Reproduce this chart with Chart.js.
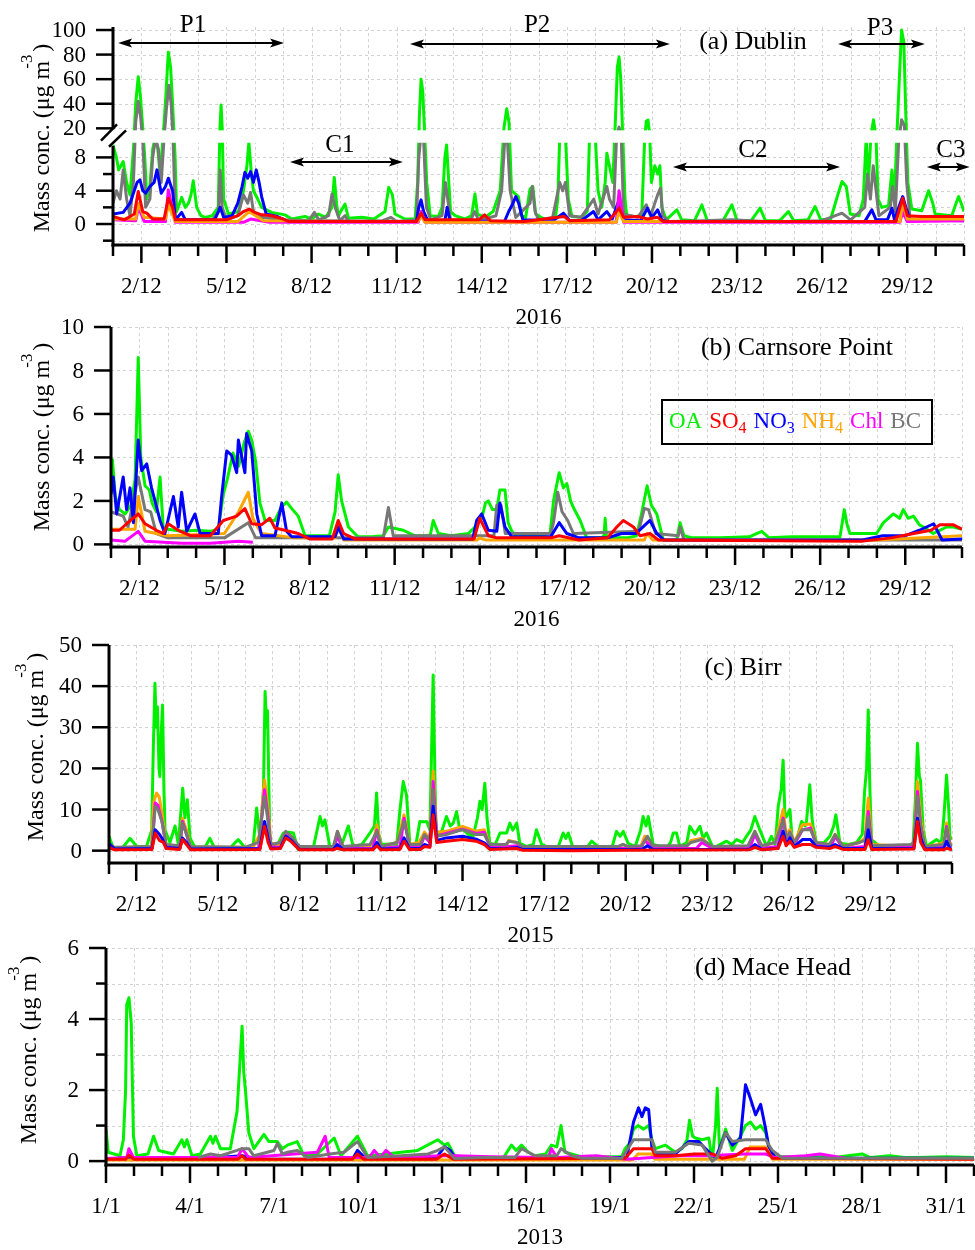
<!DOCTYPE html>
<html>
<head>
<meta charset="utf-8">
<script src="https://cdn.jsdelivr.net/npm/chart.js@4.4.1/dist/chart.umd.min.js"></script>
<style>
body { margin: 0; background: #fff; }
#wrap { position: relative; width: 975px; height: 1250px; }
canvas { position: absolute; left: 0; }
</style>
</head>
<body>
<div id="wrap">
  <canvas id="cA" width="975" height="330" style="top:0px"></canvas>
  <canvas id="cB" width="975" height="320" style="top:318px"></canvas>
  <canvas id="cC" width="975" height="320" style="top:628px"></canvas>
  <canvas id="cD" width="975" height="315" style="top:935px"></canvas>
</div>
<script>
// ---- data: [day, value] pairs, day 1 = first of month 00:00 ----

// (a) Dublin, Dec 2016
var dubOA = [[1.0,9.5],[1.12,8],[1.2,6.5],[1.36,7.5],[1.48,5],[1.6,3.5],[1.72,9],[1.8,40],[1.89,62],[1.97,45],[2.05,20],[2.12,8],[2.19,3],[2.3,4.5],[2.4,9],[2.48,12],[2.58,9],[2.66,6],[2.77,14],[2.86,45],[2.95,82],[3.03,70],[3.1,40],[3.19,8],[3.24,1.5],[3.35,2.5],[3.42,3.2],[3.55,2.0],[3.66,2.5],[3.75,3.5],[3.83,5.2],[3.95,2.0],[4.1,1.0],[4.24,0.8],[4.5,1.0],[4.71,2.0],[4.77,20],[4.81,39],[4.85,20],[4.9,3],[5.07,1.2],[5.42,1.5],[5.6,4],[5.72,7],[5.79,9.8],[5.88,6],[5.95,4],[6.1,3],[6.24,2],[6.59,1.4],[7.06,1.1],[7.3,0.6],[7.77,0.9],[8.0,0.6],[8.24,1.2],[8.5,0.8],[8.72,2],[8.8,5.6],[8.88,2.5],[8.94,1.0],[9.18,2.4],[9.3,0.7],[9.77,0.8],[10.2,0.6],[10.59,1.5],[10.72,4.4],[10.85,3.5],[10.94,1.2],[11.29,0.6],[11.65,0.6],[11.74,5],[11.8,30],[11.86,60],[11.92,50],[11.98,20],[12.06,5],[12.18,1.0],[12.47,0.9],[12.6,2],[12.7,8],[12.76,9.5],[12.82,6],[12.9,1.5],[13.06,1.0],[13.4,0.6],[13.64,1.0],[13.76,3.6],[13.85,1.2],[14.11,0.8],[14.4,1.5],[14.65,4],[14.78,20],[14.88,36],[14.96,25],[15.05,4],[15.29,3.3],[15.4,1.0],[15.55,0.8],[15.7,4.2],[15.8,4.5],[15.9,1.2],[16.0,1.0],[16.24,0.5],[16.59,0.6],[16.68,3],[16.75,14],[16.85,12],[16.95,14],[17.05,3],[17.18,0.9],[17.5,0.8],[17.72,1.5],[17.8,14],[17.9,12],[18.0,14],[18.1,4],[18.23,2],[18.35,5],[18.41,8.5],[18.5,7],[18.62,5],[18.7,20],[18.78,70],[18.84,78],[18.9,60],[18.96,20],[19.05,3],[19.11,1.0],[19.4,0.9],[19.64,1.0],[19.74,10],[19.8,26],[19.86,26.8],[19.92,15],[19.98,5],[20.1,7],[20.2,6],[20.28,7],[20.35,2],[20.5,0.5],[20.88,1.7],[21.05,0.5],[21.5,0.4],[21.76,2.3],[21.95,0.4],[22.5,0.4],[22.82,2.3],[23.0,0.4],[23.5,0.4],[23.81,1.9],[24.0,0.4],[24.5,0.4],[24.81,1.5],[25.0,0.4],[25.5,0.5],[25.75,2.1],[25.95,0.5],[26.3,0.6],[26.55,3.5],[26.7,5.1],[26.85,4.5],[26.99,1.2],[27.3,1.0],[27.45,3],[27.55,12],[27.63,5],[27.72,14],[27.81,27],[27.9,12],[27.97,3],[28.1,2],[28.34,2.2],[28.46,6.5],[28.55,3],[28.63,12],[28.72,60],[28.8,100],[28.88,90],[28.95,30],[29.02,5],[29.16,1.8],[29.51,1.6],[29.75,4],[29.9,2.5],[29.98,1.2],[30.57,1.0],[30.72,2.5],[30.81,3.3],[30.9,2.5],[31.0,1.5]];
var dubBC = [[1.0,2.5],[1.12,4.0],[1.25,3],[1.36,6.5],[1.48,3],[1.6,1.0],[1.72,5],[1.8,25],[1.89,42],[1.97,30],[2.05,10],[2.15,2],[2.3,3],[2.4,8],[2.5,12],[2.6,9],[2.7,5],[2.8,12],[2.88,35],[2.97,55],[3.05,40],[3.12,10],[3.2,0.6],[3.5,0.5],[4.0,0.4],[4.5,0.5],[4.72,1.5],[4.78,6.5],[4.85,2],[5.0,0.5],[5.4,1.0],[5.6,3.5],[5.75,2.5],[5.85,3.8],[5.95,1.5],[6.2,0.8],[7.0,0.5],[7.9,0.4],[8.1,1.4],[8.25,0.5],[8.6,1.0],[8.72,3.6],[8.85,1.8],[9.0,0.4],[9.18,1.0],[9.3,0.3],[10.5,0.4],[10.8,0.8],[11.0,0.3],[11.7,0.5],[11.78,8],[11.86,15],[11.95,10],[12.05,2],[12.2,0.5],[12.6,1],[12.72,5],[12.8,3],[12.9,0.5],[13.6,0.4],[13.75,1.5],[13.9,0.4],[14.5,1.0],[14.7,4],[14.82,14],[14.9,12],[15.0,4],[15.2,0.8],[15.7,2.5],[15.78,4.5],[15.88,1.5],[16.0,0.5],[16.5,0.8],[16.75,5],[16.85,4],[16.95,5],[17.1,1],[17.5,0.8],[17.85,2.5],[17.95,3],[18.1,1.2],[18.41,4.5],[18.5,3],[18.65,2],[18.75,12],[18.84,21],[18.92,10],[19.0,1.2],[19.5,0.8],[19.8,2.3],[19.95,1.0],[20.2,3.5],[20.3,4.3],[20.38,1.0],[20.6,0.3],[21.8,0.4],[22.8,0.5],[24.0,0.3],[25.0,0.3],[26.0,0.4],[26.7,1.3],[27.0,0.5],[27.5,2],[27.6,6],[27.7,3],[27.8,7],[27.9,4],[28.0,1],[28.4,2],[28.48,4.5],[28.58,1.5],[28.7,10],[28.8,27],[28.9,22],[28.98,5],[29.1,0.6],[30.0,0.4],[31.0,0.5]];
var dubNO3 = [[1.0,1.2],[1.36,1.4],[1.6,2.5],[1.85,5.0],[1.95,5.3],[2.05,4],[2.15,3.7],[2.3,4.5],[2.45,5],[2.55,6.5],[2.7,3.7],[2.85,4.5],[2.95,5.5],[3.1,4],[3.2,0.5],[3.42,1.4],[3.55,0.5],[4.5,0.5],[4.6,0.6],[4.78,2],[4.9,0.8],[5.2,1.0],[5.4,2.5],[5.55,4.5],[5.65,6.2],[5.75,5.5],[5.85,6.3],[5.95,5.0],[6.05,6.5],[6.15,5],[6.24,3.3],[6.4,1.2],[6.8,0.9],[7.1,0.4],[11.0,0.3],[11.7,0.3],[11.78,2.0],[11.86,2.9],[11.95,1.5],[12.1,0.4],[12.7,0.4],[12.78,2],[12.88,0.4],[14.8,0.3],[14.95,1.5],[15.1,2.5],[15.2,3.3],[15.3,2.5],[15.45,0.5],[16.5,0.4],[16.88,1.3],[17.1,0.4],[17.5,0.4],[17.94,1.5],[18.1,0.5],[18.41,1.5],[18.6,0.6],[18.84,2.9],[19.0,0.5],[19.6,0.4],[19.84,1.9],[20.0,0.8],[20.2,1.7],[20.35,0.5],[20.5,0.3],[27.5,0.3],[27.75,1.7],[27.9,0.5],[28.3,0.5],[28.46,1.9],[28.55,0.5],[28.75,2.5],[28.84,3.3],[28.95,2.0],[29.1,0.5],[31.0,0.4]];
var dubSO4 = [[1.0,0.9],[1.4,0.5],[1.75,1.2],[1.89,3.9],[2.05,1.5],[2.19,1.3],[2.4,0.6],[2.8,0.6],[2.95,3.1],[3.1,2.0],[3.2,0.5],[5.0,0.5],[5.4,1.0],[5.6,1.5],[5.8,1.8],[6.0,1.4],[6.24,1.1],[6.6,1.0],[7.0,0.6],[7.2,0.3],[11.7,0.3],[11.86,1.3],[12.0,0.5],[13.0,0.5],[13.9,0.5],[14.1,1.1],[14.3,0.4],[15.5,0.3],[16.0,0.5],[16.9,0.9],[17.1,0.4],[18.5,0.5],[18.84,1.9],[19.0,0.8],[19.5,0.9],[19.84,0.6],[20.2,0.8],[20.4,0.3],[28.6,0.3],[28.84,3.1],[29.0,1.0],[29.5,0.9],[30.5,0.9],[31.0,0.9]];
var dubNH4 = [[1.0,0.6],[1.8,0.6],[1.89,2.5],[2.1,0.8],[2.85,0.6],[2.95,2.3],[3.2,0.3],[5.4,0.3],[5.8,1.5],[6.3,0.4],[11.75,0.3],[11.86,1.0],[12.0,0.2],[18.74,0.2],[18.84,1.5],[19.0,0.3],[28.74,0.3],[28.84,2.5],[29.0,0.6],[31.0,0.6]];
var dubChl = [[1.0,0.5],[1.8,0.4],[1.9,2],[2.1,0.3],[2.85,0.3],[2.95,4.1],[3.2,0.2],[5.6,0.2],[5.85,0.6],[6.5,0.2],[11.76,0.2],[11.86,1.5],[12.0,0.2],[18.74,0.2],[18.84,4.0],[19.0,0.2],[28.74,0.2],[28.84,1.5],[29.0,0.3],[31.0,0.4]];

// (b) Carnsore Point, Dec 2016
var carOA = [[1.0,3.6],[1.05,3.9],[1.15,2.2],[1.3,1.6],[1.5,1.4],[1.7,1.8],[1.85,3],[1.96,8.6],[2.05,4],[2.2,2.7],[2.35,2.5],[2.45,1.9],[2.6,1.5],[2.73,3.1],[2.84,0.8],[3.0,0.7],[3.5,0.6],[4.0,0.65],[4.5,0.6],[4.78,0.7],[4.96,2.3],[5.1,3.0],[5.3,4.2],[5.5,3.6],[5.7,4.7],[5.84,5.2],[5.96,4.8],[6.1,3.8],[6.25,1.9],[6.43,1.1],[6.78,1.1],[7.0,1.7],[7.19,1.95],[7.4,1.6],[7.6,1.3],[7.84,0.4],[8.2,0.4],[8.7,0.4],[8.9,1.5],[9.01,3.2],[9.13,2.0],[9.37,0.8],[9.7,0.35],[10.2,0.35],[10.6,0.4],[10.78,0.8],[11.3,0.65],[11.7,0.4],[12.25,0.4],[12.36,1.1],[12.54,0.5],[13.0,0.4],[13.6,0.5],[13.83,0.8],[14.07,1.2],[14.2,1.9],[14.3,2.0],[14.45,1.6],[14.6,1.6],[14.71,2.5],[14.89,2.5],[15.0,1.0],[15.13,0.6],[15.3,0.35],[16.0,0.4],[16.48,0.5],[16.6,2.0],[16.8,3.3],[16.95,2.6],[17.07,2.8],[17.2,2.0],[17.3,1.7],[17.54,1.1],[17.77,0.3],[18.3,0.3],[18.38,0.4],[18.42,1.2],[18.47,0.3],[19.2,0.3],[19.53,0.4],[19.7,1.4],[19.9,2.7],[20.05,1.8],[20.24,1.4],[20.47,0.2],[20.94,0.2],[21.06,1.0],[21.2,0.4],[21.5,0.3],[22.5,0.3],[23.5,0.35],[23.94,0.6],[24.2,0.3],[25.0,0.35],[26.0,0.35],[26.7,0.35],[26.85,1.6],[26.95,0.9],[27.05,0.5],[27.52,0.5],[27.99,0.5],[28.23,1.0],[28.58,1.4],[28.8,1.2],[28.93,1.6],[29.1,1.2],[29.29,1.3],[29.5,0.9],[29.64,0.8],[29.99,0.5],[30.46,0.8],[30.7,0.8],[31.0,0.7]];
var carNO3 = [[1.0,2.3],[1.08,3.1],[1.2,1.4],[1.43,3.1],[1.55,1.6],[1.67,2.6],[1.79,1.0],[1.96,4.8],[2.08,3.4],[2.26,3.7],[2.43,2.6],[2.55,2.0],[2.73,1.1],[2.9,0.5],[3.2,2.2],[3.37,0.8],[3.49,2.4],[3.67,0.6],[3.96,1.4],[4.14,0.5],[4.31,0.5],[4.78,0.5],[4.9,2.2],[5.08,4.3],[5.25,4.1],[5.43,3.3],[5.49,4.8],[5.72,3.3],[5.78,5.1],[5.96,4.3],[6.14,1.4],[6.31,0.4],[6.78,0.4],[7.02,1.9],[7.19,0.6],[7.37,0.35],[8.9,0.35],[9.01,0.8],[9.2,0.25],[12.6,0.25],[13.75,0.25],[13.89,1.1],[14.07,1.4],[14.3,0.65],[14.6,0.6],[14.71,1.9],[14.89,0.8],[15.13,0.35],[16.5,0.35],[16.8,1.0],[17.07,0.5],[17.5,0.3],[18.5,0.3],[19.0,0.5],[19.5,0.5],[20.0,1.1],[20.24,0.5],[20.5,0.2],[27.5,0.2],[28.2,0.4],[29.0,0.4],[29.5,0.65],[30.0,0.95],[30.3,0.2],[31.0,0.25]];
var carSO4 = [[1.0,0.65],[1.3,0.65],[1.55,0.95],[1.96,1.4],[2.2,0.95],[2.6,0.65],[2.84,0.5],[3.02,0.95],[3.37,0.65],[3.8,0.4],[4.5,0.4],[4.96,1.1],[5.43,1.3],[5.72,1.65],[5.96,0.95],[6.3,0.9],[6.6,1.2],[6.78,0.75],[7.13,0.65],[7.6,0.5],[8.0,0.25],[8.8,0.25],[9.01,1.1],[9.2,0.5],[9.6,0.25],[12.0,0.25],[13.8,0.25],[14.0,1.2],[14.3,0.4],[14.6,0.3],[16.5,0.3],[16.8,0.4],[17.5,0.2],[18.5,0.3],[18.83,0.8],[19.06,1.1],[19.42,0.8],[19.65,0.4],[20.0,0.5],[20.3,0.2],[27.5,0.15],[28.5,0.3],[29.3,0.5],[29.9,0.65],[30.23,0.9],[30.7,0.9],[31.0,0.7]];
var carNH4 = [[1.0,0.7],[1.85,0.7],[1.96,2.2],[2.2,0.6],[3.0,0.4],[5.0,0.5],[5.5,1.5],[5.84,2.4],[6.0,1.2],[6.3,0.5],[7.5,0.3],[8.9,0.3],[9.01,0.8],[9.2,0.2],[13.9,0.2],[14.0,0.3],[14.2,0.2],[19.8,0.2],[19.9,0.5],[20.1,0.2],[28.0,0.2],[31.0,0.4]];
var carChl = [[1.0,0.2],[1.5,0.15],[1.96,0.6],[2.2,0.15],[3.5,0.05],[4.5,0.05],[5.0,0.1],[5.5,0.15],[6.0,0.1]];
var carBC = [[1.0,1.5],[1.43,1.3],[1.6,0.8],[1.96,3.1],[2.2,1.6],[2.4,1.5],[2.6,0.5],[3.0,0.3],[5.0,0.3],[5.84,1.0],[6.1,0.3],[10.6,0.3],[10.78,1.7],[10.95,0.4],[14.5,0.4],[14.6,1.8],[14.75,1.8],[14.9,0.5],[16.5,0.5],[16.6,1.0],[16.75,2.4],[16.9,1.5],[17.1,1.1],[17.3,0.5],[19.6,0.6],[19.8,1.65],[19.95,1.6],[20.2,0.5],[21.0,0.4],[21.06,0.8],[21.2,0.2],[31.0,0.2]];

// (c) Birr, Dec 2015
var birOA = [[1.0,3.5],[1.16,0.5],[1.5,0.7],[1.77,3.0],[2.02,1.0],[2.38,1.0],[2.57,5],[2.63,25],[2.69,40.7],[2.74,30],[2.78,35],[2.84,20],[2.87,18],[2.93,30],[2.97,35.4],[3.02,15],[3.06,5],[3.24,2],[3.43,6],[3.55,1.5],[3.71,15.2],[3.79,8],[3.88,12.4],[3.98,3],[4.2,0.3],[4.5,0.4],[4.71,3.0],[4.9,0.4],[5.4,0.3],[5.75,2.7],[6.06,0.3],[6.3,1.0],[6.43,10.4],[6.55,2.7],[6.68,15],[6.74,38.7],[6.8,30],[6.83,34],[6.88,15],[6.92,1.5],[7.16,1.0],[7.41,4.3],[7.6,4.5],[7.78,4.3],[7.95,0.3],[8.5,0.3],[8.76,8.3],[8.85,6],[8.94,7.5],[9.12,1.0],[9.5,0.4],[9.8,6.0],[9.98,1.0],[10.3,1.5],[10.6,4.3],[10.76,6],[10.84,14],[10.92,4],[11.02,1.5],[11.3,1.6],[11.58,1.5],[11.7,10],[11.82,16.8],[11.94,13.5],[12.07,1.0],[12.3,2],[12.43,7.1],[12.6,7],[12.68,7.1],[12.8,5],[12.92,42.7],[13.02,5],[13.2,4],[13.41,8.3],[13.55,6],[13.66,6.7],[13.78,9.5],[13.9,5],[14.03,5.1],[14.2,4],[14.39,3.5],[14.55,8],[14.64,12],[14.72,10],[14.82,16.4],[14.9,8],[15.0,1.8],[15.2,1.5],[15.38,4.3],[15.62,4.3],[15.74,6.7],[15.85,5],[15.99,6.7],[16.11,1.8],[16.36,1.0],[16.6,1.5],[16.72,5.1],[16.91,1.5],[17.21,0.6],[17.5,0.6],[17.7,4.3],[17.8,3],[17.89,4.3],[18.07,0.6],[18.56,0.6],[18.75,2.3],[19.05,0.6],[19.5,0.8],[19.66,4.7],[19.8,3.5],[19.91,4.7],[20.09,1.8],[20.35,1.0],[20.55,5],[20.64,8.3],[20.75,6],[20.83,8.3],[21.01,1.5],[21.5,0.6],[21.65,2],[21.75,4.3],[21.87,4.3],[21.99,1.0],[22.25,2],[22.36,5.9],[22.55,4],[22.73,5.9],[22.85,3],[22.97,4.3],[23.22,0.6],[23.71,2.3],[23.9,1.5],[24.08,2.7],[24.3,2],[24.44,3.5],[24.6,5],[24.75,8.3],[24.93,5.1],[25.18,1.0],[25.36,3.5],[25.5,1.5],[25.61,10.8],[25.72,15],[25.79,22],[25.86,8],[25.91,8.3],[26.04,10],[26.12,3],[26.22,1.0],[26.47,7.1],[26.6,6],[26.65,7.1],[26.77,16],[26.85,8],[26.89,6],[27.02,1.8],[27.3,2],[27.51,3.5],[27.65,6],[27.73,8.7],[27.88,1.8],[28.2,1.5],[28.5,2],[28.7,4],[28.79,14.8],[28.86,20],[28.92,34.2],[28.98,15],[29.04,2.7],[29.35,1.0],[30.0,1.0],[30.33,1.0],[30.57,1.8],[30.65,12],[30.73,26.1],[30.8,18],[30.84,17.2],[30.94,5.1],[31.06,1.0],[31.43,2.7],[31.61,1.8],[31.7,8],[31.8,18.4],[31.88,10],[31.92,3.5],[32.0,2.7]];
var birNH4 = [[1.0,1.5],[1.2,0.7],[2.55,0.9],[2.65,12],[2.75,14],[2.85,13],[2.95,9],[3.1,1.5],[3.4,1.2],[3.6,1.0],[3.7,7.9],[3.85,5],[4.0,0.8],[6.3,0.8],[6.55,4],[6.72,17.2],[6.82,12],[6.95,2],[7.2,1.0],[7.5,4.5],[7.7,3.5],[8.0,0.5],[9.25,0.5],[9.4,4.7],[9.6,1.0],[10.5,1.0],[10.7,1.5],[10.85,6.3],[11.0,1.0],[11.6,2],[11.85,8.7],[12.05,1.5],[12.4,2],[12.6,4.5],[12.8,3],[12.92,19.3],[13.05,4.5],[13.4,4.7],[14.0,5.9],[14.5,4.7],[14.8,5.1],[15.0,1.5],[15.6,1.0],[15.7,2.5],[16.0,2],[16.2,0.8],[19.7,0.8],[19.9,1.5],[20.1,0.8],[20.55,1.0],[20.7,3.5],[21.0,1.0],[22.25,1.0],[22.4,2.5],[22.8,3],[23.2,0.8],[24.5,1.0],[24.75,4.7],[25.0,1.0],[25.5,2],[25.79,10],[25.9,4],[26.04,5.1],[26.2,2],[26.5,6.3],[26.8,6.5],[27.0,2],[27.5,1.5],[27.7,4],[28.0,1.0],[28.6,2],[28.8,3],[28.92,12.8],[29.05,1.5],[30.5,1.0],[30.6,1.5],[30.73,16.8],[30.85,8],[31.0,1.0],[31.5,1.5],[31.7,2],[31.8,6.7],[31.92,2],[32.0,1.5]];
var birChl = [[1.0,1.2],[1.2,0.5],[2.58,0.7],[2.7,11.6],[2.8,11],[2.95,7],[3.1,1.0],[3.6,0.6],[3.7,7.1],[3.85,4],[4.0,0.5],[6.5,0.6],[6.72,14.8],[6.85,8],[6.95,1.0],[7.3,0.8],[7.5,3.8],[7.7,3],[8.0,0.3],[9.25,0.3],[9.4,3.5],[9.6,0.5],[10.7,0.5],[10.85,5],[11.0,0.5],[11.7,1.0],[11.85,7.9],[12.05,1.0],[12.45,1.0],[12.6,3.5],[12.8,2],[12.92,16.8],[13.05,3.5],[13.4,4.2],[14.0,5.2],[14.5,4.2],[14.8,4.5],[15.0,1.0],[15.7,1.0],[16.0,1.2],[16.2,0.5],[20.55,0.5],[20.7,2.5],[21.0,0.5],[22.6,0.5],[22.8,2],[23.2,0.5],[24.55,0.5],[24.75,4],[25.0,0.5],[25.6,1.0],[25.79,7.9],[25.9,3],[26.04,4],[26.2,1.5],[26.5,5],[26.8,5.5],[27.0,1.5],[27.55,1.0],[27.7,3.5],[28.0,0.5],[28.8,1.0],[28.92,9.5],[29.05,1.0],[30.6,1.0],[30.73,14.4],[30.85,6],[31.0,0.6],[31.7,1.0],[31.8,5.9],[31.92,1.5],[32.0,1.0]];
var birBC = [[1.0,1.5],[1.2,0.8],[2.58,1.0],[2.7,10.8],[2.8,10],[2.95,7],[3.1,1.5],[3.6,1.2],[3.7,6.7],[3.85,4],[4.0,1.0],[6.0,0.8],[6.5,2],[6.72,13.2],[6.85,7],[6.95,1.5],[7.3,2],[7.5,4.7],[7.7,3.5],[8.0,1.0],[9.25,1.0],[9.4,4.7],[9.6,1.0],[10.6,1.5],[10.85,4.7],[11.0,1.0],[11.6,2],[11.85,7.1],[12.05,1.5],[12.45,1.5],[12.6,3.9],[12.8,2.5],[12.92,14.8],[13.05,3.5],[13.4,3.9],[14.0,5.1],[14.5,3.9],[14.8,3.9],[15.0,1.5],[15.6,1.5],[15.7,2.3],[16.0,2],[16.2,1.0],[19.7,1.0],[19.9,1.5],[20.1,1.0],[20.6,1.2],[20.8,3.5],[21.0,1.2],[22.25,1.2],[22.4,2],[22.8,2.7],[23.2,1.0],[24.5,1.2],[24.75,4.7],[25.0,1.2],[25.5,2],[25.79,7.5],[25.9,3],[26.04,4.5],[26.2,2],[26.5,5.1],[26.8,5.1],[27.0,2],[27.5,1.5],[27.7,3.9],[28.0,1.0],[28.6,2],[28.8,2.5],[28.92,8.3],[29.05,1.2],[30.5,1.5],[30.6,2],[30.73,13.2],[30.85,6],[31.0,1.0],[31.7,1.5],[31.8,5.5],[31.92,1.5],[32.0,1.2]];
var birNO3 = [[1.0,1.8],[1.2,0.4],[2.58,0.5],[2.7,5.1],[2.85,4],[2.95,3],[3.1,0.8],[3.6,0.5],[3.7,3.1],[3.85,2],[4.0,0.4],[6.55,0.5],[6.72,7.1],[6.85,3],[6.95,0.6],[7.3,0.6],[7.5,3.5],[7.7,2.5],[8.0,0.3],[9.25,0.3],[9.4,1.5],[9.6,0.3],[10.7,0.4],[10.85,2],[11.0,0.4],[11.7,0.5],[11.85,3.1],[12.05,0.5],[12.45,0.5],[12.6,1.5],[12.8,1.0],[12.92,10.8],[13.05,2.5],[13.4,3.1],[14.0,3.5],[14.5,2.8],[14.8,1.9],[15.0,0.5],[15.7,0.6],[16.0,0.8],[16.2,0.3],[20.6,0.3],[20.8,1.2],[21.0,0.3],[24.55,0.3],[24.75,1.5],[25.0,0.3],[25.6,0.6],[25.79,4.7],[25.9,1.5],[26.04,3.1],[26.2,1],[26.5,2.7],[26.8,2.7],[27.0,1],[27.5,0.8],[27.7,1.5],[28.0,0.5],[28.8,0.6],[28.92,5.1],[29.05,0.5],[30.6,0.6],[30.73,7.9],[30.85,3],[31.0,0.4],[31.7,0.5],[31.8,2.3],[31.92,0.5],[32.0,0.4]];
var birSO4 = [[1.0,0.8],[1.2,0.2],[2.58,0.3],[2.7,4.3],[2.85,2.5],[3.0,2],[3.1,0.5],[3.6,0.3],[3.7,2.7],[3.85,1.5],[4.0,0.2],[6.55,0.3],[6.72,5.9],[6.85,2],[6.95,0.4],[7.3,0.5],[7.5,3.1],[7.7,2.2],[8.0,0.2],[9.25,0.2],[9.4,0.6],[9.6,0.2],[10.7,0.2],[10.85,1.2],[11.0,0.2],[11.7,0.3],[11.85,2.3],[12.05,0.3],[12.45,0.3],[12.6,1.0],[12.8,0.8],[12.92,8.7],[13.05,2],[13.4,2.3],[14.0,2.7],[14.5,2.3],[14.8,1.5],[15.0,0.3],[16.0,0.5],[16.2,0.1],[18.0,0.0],[20.0,0.1],[24.55,0.2],[24.75,0.8],[25.0,0.2],[25.6,0.5],[25.79,3.5],[25.9,1.2],[26.04,2.3],[26.2,0.8],[26.5,1.5],[26.8,1.5],[27.0,0.8],[27.5,0.5],[27.7,1.0],[28.0,0.3],[28.8,0.3],[28.92,2.7],[29.05,0.3],[30.6,0.4],[30.73,7.1],[30.85,2],[31.0,0.2],[31.7,0.2],[31.8,0.6],[32.0,0.2]];

// (d) Mace Head, Jan 2013
var macOA = [[1.0,0.9],[1.08,0.25],[1.5,0.15],[1.62,0.6],[1.7,2],[1.74,4.4],[1.82,4.6],[1.9,3.9],[1.98,0.7],[2.1,0.15],[2.5,0.2],[2.7,0.7],[2.88,0.3],[3.41,0.2],[3.71,0.6],[3.8,0.4],[3.89,0.6],[4.07,0.15],[4.37,0.2],[4.73,0.7],[4.82,0.5],[4.91,0.7],[5.09,0.35],[5.44,0.35],[5.68,1.4],[5.86,3.8],[5.92,2.5],[5.98,2.0],[6.1,0.8],[6.28,0.35],[6.64,0.75],[6.82,0.55],[7.12,0.55],[7.3,0.35],[7.48,0.45],[7.83,0.55],[8.07,0.15],[8.55,0.2],[9.15,0.65],[9.39,0.15],[9.98,0.7],[10.34,0.15],[11.0,0.2],[11.54,0.25],[12.13,0.3],[12.85,0.6],[13.09,0.45],[13.21,0.5],[13.45,0.15],[13.93,0.07],[14.76,0.07],[15.2,0.1],[15.48,0.45],[15.65,0.3],[15.84,0.45],[16.08,0.25],[16.32,0.15],[16.7,0.2],[16.91,0.45],[17.1,0.4],[17.25,1.0],[17.39,0.25],[17.63,0.2],[17.99,0.12],[19.42,0.12],[19.54,0.35],[19.7,0.5],[19.84,0.9],[20.0,1.0],[20.2,0.9],[20.38,1.0],[20.5,0.6],[20.62,0.35],[20.98,0.45],[21.33,0.25],[21.57,0.35],[21.75,0.6],[21.84,1.15],[21.95,0.7],[22.05,0.65],[22.29,0.6],[22.53,0.65],[22.65,0.0],[22.77,1.0],[22.83,2.05],[22.91,0.35],[23.13,0.9],[23.37,0.3],[23.66,0.7],[23.84,1.0],[24.02,1.1],[24.2,0.9],[24.38,1.0],[24.56,0.8],[24.68,0.35],[24.92,0.12],[25.5,0.12],[26.5,0.12],[27.0,0.1],[28.0,0.2],[28.3,0.1],[29.0,0.15],[29.5,0.1],[30.0,0.1],[31.0,0.12],[32.0,0.1]];
var macNO3 = [[1.0,0.05],[1.82,0.1],[3.7,0.1],[5.0,0.1],[5.86,0.15],[6.5,0.05],[8.0,0.05],[9.8,0.05],[9.98,0.3],[10.3,0.05],[12.8,0.1],[13.09,0.4],[13.3,0.3],[13.5,0.05],[15.8,0.1],[19.6,0.1],[19.84,1.1],[20.02,1.5],[20.14,1.25],[20.26,1.5],[20.38,1.45],[20.5,0.35],[20.62,0.2],[21.33,0.2],[21.81,0.55],[22.17,0.55],[22.41,0.35],[22.77,0.08],[23.13,0.8],[23.37,0.45],[23.66,0.65],[23.84,2.15],[24.02,1.75],[24.2,1.3],[24.38,1.6],[24.56,0.9],[24.68,0.35],[24.92,0.08],[32.0,0.08]];
var macSO4 = [[1.0,0.05],[1.7,0.05],[1.82,0.17],[2.0,0.05],[5.7,0.05],[5.86,0.15],[6.0,0.05],[9.8,0.05],[9.98,0.2],[10.2,0.05],[12.8,0.05],[13.09,0.2],[13.4,0.05],[19.54,0.08],[19.84,0.35],[20.5,0.35],[20.62,0.15],[21.33,0.15],[22.0,0.2],[22.65,0.2],[23.01,0.08],[23.49,0.15],[23.84,0.35],[24.56,0.35],[24.8,0.08],[32.0,0.05]];
var macNH4 = [[1.0,0.03],[19.8,0.03],[20.0,0.2],[20.5,0.2],[20.6,0.05],[23.8,0.05],[24.0,0.4],[24.56,0.4],[24.8,0.05],[32.0,0.05]];
var macChl = [[1.0,0.07],[1.74,0.1],[1.82,0.35],[1.98,0.1],[5.7,0.1],[5.86,0.35],[6.1,0.1],[8.55,0.25],[8.83,0.7],[8.97,0.1],[10.4,0.1],[10.58,0.3],[10.8,0.1],[11.0,0.3],[11.3,0.1],[13.0,0.15],[13.5,0.15],[14.76,0.12],[16.8,0.1],[16.91,0.35],[17.1,0.1],[18.5,0.15],[19.6,0.05],[20.5,0.1],[21.5,0.15],[22.5,0.15],[23.8,0.2],[24.56,0.2],[24.9,0.1],[26.0,0.15],[26.5,0.2],[27.5,0.07],[32.0,0.07]];
var macBC = [[4.3,0.1],[4.73,0.2],[5.09,0.15],[5.68,0.3],[5.86,0.35],[6.1,0.35],[6.28,0.15],[7.0,0.3],[7.12,0.5],[7.3,0.2],[7.48,0.25],[7.83,0.3],[8.2,0.1],[9.0,0.2],[9.5,0.25],[9.98,0.55],[10.34,0.1],[11.54,0.15],[12.5,0.2],[12.85,0.3],[13.09,0.4],[13.45,0.07],[14.5,0.1],[15.6,0.1],[15.84,0.35],[16.32,0.15],[17.1,0.15],[17.25,0.35],[17.63,0.15],[18.0,0.08],[19.42,0.08],[19.84,0.6],[20.5,0.6],[20.62,0.25],[21.33,0.25],[21.81,0.5],[22.29,0.45],[22.65,0.0],[22.83,0.1],[23.13,0.8],[23.37,0.55],[23.84,0.6],[24.56,0.6],[24.8,0.3],[25.16,0.08],[32.0,0.08]];

// tick labels
var yTicksDub = [0, 4, 8, 20, 40, 60, 80, 100];
var yMinorDub = [-2, 2, 6];
var yTicksCar = [0, 2, 4, 6, 8, 10];
var yTicksBir = [0, 10, 20, 30, 40, 50];
var yTicksMac = [0, 2, 4, 6];
var yMinorMac = [1, 3, 5];
var labelDaysDec = [2, 5, 8, 11, 14, 17, 20, 23, 26, 29];
var labelDaysJan = [1, 4, 7, 10, 13, 16, 19, 22, 25, 28, 31];

var FONT = '"Liberation Serif", "Times New Roman", serif';
var colors = { OA: '#00f000', SO4: '#ff0000', NO3: '#0000ff', NH4: '#ffa500', Chl: '#ff00ff', BC: '#777777' };

// broken axis for Dublin: 0-10 as is, 20-100 squeezed
function dubY(v) {
    if (v <= 10) return v;
    if (v < 20) return 10 + (v - 10) * 0.149;
    return 11.49 + (v - 20) * 0.1476;
}
function plainY(v) { return v; }

var panels = {
    cA: { top: 0, h: 330, left: 113, right: 964, areaTop: 27, areaBottom: 245,
          xMin: 1, xMax: 31, yMin: -2.52, yMax: 23.66, tf: dubY,
          yTicks: yTicksDub, yMinor: yMinorDub, grid: [-2, 0, 2, 4, 6, 8, 20, 40, 60, 80, 100],
          labelDays: labelDaysDec, month: '12', year: '2016', ytitleX: 43, ytitleY: 138,
          series: { OA: dubOA, BC: dubBC, NO3: dubNO3, Chl: dubChl, NH4: dubNH4, SO4: dubSO4 },
          order: ['SO4', 'NH4', 'Chl', 'NO3', 'BC', 'OA'], brk: true,
          title: '(a) Dublin', titleX: 753, titleY: 42 },
    cB: { top: 318, h: 320, left: 111, right: 962, areaTop: 327, areaBottom: 547,
          xMin: 1, xMax: 31, yMin: -0.12, yMax: 10, tf: plainY,
          yTicks: yTicksCar, yMinor: [], grid: yTicksCar,
          labelDays: labelDaysDec, month: '12', year: '2016', ytitleX: 43, ytitleY: 437,
          series: { OA: carOA, BC: carBC, NH4: carNH4, Chl: carChl, NO3: carNO3, SO4: carSO4 },
          order: ['SO4', 'NO3', 'Chl', 'NH4', 'BC', 'OA'], legend: true,
          title: '(b) Carnsore Point', titleX: 797, titleY: 348 },
    cC: { top: 628, h: 320, left: 109, right: 952, areaTop: 645, areaBottom: 863,
          xMin: 1, xMax: 32, yMin: -3, yMax: 50, tf: plainY,
          yTicks: yTicksBir, yMinor: [], grid: yTicksBir,
          labelDays: labelDaysDec, month: '12', year: '2015', ytitleX: 37, ytitleY: 747,
          series: { OA: birOA, NH4: birNH4, Chl: birChl, BC: birBC, NO3: birNO3, SO4: birSO4 },
          order: ['SO4', 'NO3', 'BC', 'Chl', 'NH4', 'OA'],
          title: '(c) Birr', titleX: 743, titleY: 668 },
    cD: { top: 935, h: 315, left: 106, right: 974, areaTop: 948, areaBottom: 1165,
          xMin: 1, xMax: 32, yMin: -0.11, yMax: 6, tf: plainY,
          yTicks: yTicksMac, yMinor: yMinorMac, grid: [0, 1, 2, 3, 4, 5, 6],
          labelDays: labelDaysJan, month: '1', year: '2013', ytitleX: 30, ytitleY: 1050,
          series: { OA: macOA, NO3: macNO3, NH4: macNH4, Chl: macChl, SO4: macSO4, BC: macBC },
          order: ['BC', 'SO4', 'Chl', 'NH4', 'NO3', 'OA'],
          title: '(d) Mace Head', titleX: 773, titleY: 968 }
};

function seg(ctx, x0, y0, x1, y1) {
    ctx.beginPath(); ctx.moveTo(x0, y0); ctx.lineTo(x1, y1); ctx.stroke();
}

function arrowHead(ctx, x, y, dir) {
    ctx.beginPath();
    ctx.moveTo(x, y);
    ctx.lineTo(x + dir * 14, y - 4.5);
    ctx.lineTo(x + dir * 11, y);
    ctx.lineTo(x + dir * 14, y + 4.5);
    ctx.closePath();
    ctx.fill();
}

function dblArrow(ctx, x0, x1, y) {
    ctx.lineWidth = 2;
    seg(ctx, x0 + 6, y, x1 - 6, y);
    arrowHead(ctx, x0, y, 1);
    arrowHead(ctx, x1, y, -1);
}

function drawYTitle(ctx, cx, cy) {
    ctx.save();
    ctx.translate(cx, cy);
    ctx.rotate(-Math.PI / 2);
    ctx.fillStyle = '#000';
    ctx.textBaseline = 'middle';
    ctx.textAlign = 'left';
    var main = 'Mass conc. (\u03bcg m';
    ctx.font = '24px ' + FONT;
    var wMain = ctx.measureText(main).width;
    var wPar = ctx.measureText(')').width;
    var total = wMain + 9 + wPar;
    var x = -total / 2;
    ctx.fillText(main, x, 0);
    ctx.font = '17px ' + FONT;
    ctx.fillText('-3', x + wMain - 8, -15);
    ctx.font = '24px ' + FONT;
    ctx.fillText(')', x + wMain + 9, 0);
    ctx.restore();
}

var framePlugin = {
    id: 'frame',
    beforeDatasetsDraw: function(chart) {
        var p = panels[chart.canvas.id];
        var ctx = chart.ctx, a = chart.chartArea, xs = chart.scales.x, ys = chart.scales.y;
        ctx.save();
        ctx.strokeStyle = '#d2d2d2';
        ctx.lineWidth = 1;
        ctx.setLineDash([3, 3]);
        for (var d = p.xMin + 1; d <= p.xMax; d++) {
            var px = Math.round(xs.getPixelForValue(d)) + 0.5;
            seg(ctx, px, a.top, px, a.bottom);
        }
        p.grid.forEach(function(v) {
            var py = Math.round(ys.getPixelForValue(p.tf(v))) + 0.5;
            seg(ctx, a.left, py, a.right, py);
        });
        ctx.restore();
    },
    afterDatasetsDraw: function(chart) {
        var p = panels[chart.canvas.id];
        var ctx = chart.ctx, a = chart.chartArea, xs = chart.scales.x, ys = chart.scales.y;
        ctx.save();
        ctx.strokeStyle = '#000';
        ctx.fillStyle = '#000';
        ctx.setLineDash([]);
        ctx.lineCap = 'butt';

        var bTop = 0, bBot = 0;
        if (p.brk) {
            bTop = ys.getPixelForValue(p.tf(20));
            bBot = ys.getPixelForValue(p.tf(10));
            ctx.fillStyle = '#fff';
            ctx.fillRect(a.left + 2, bTop + 2, a.right - a.left, bBot - bTop);
            ctx.fillStyle = '#000';
        }

        // axes
        ctx.lineWidth = 3;
        if (p.brk) {
            seg(ctx, a.left, a.top, a.left, bTop + 1);
            seg(ctx, a.left, bBot + 5, a.left, a.bottom + 1.5);
            ctx.lineWidth = 2.5;
            seg(ctx, 101, bBot, 117, bTop - 4);
            seg(ctx, 109, bBot + 6, 126, bTop + 2);
            ctx.lineWidth = 3;
        } else {
            seg(ctx, a.left, a.top, a.left, a.bottom + 1.5);
        }
        seg(ctx, a.left - 1.5, a.bottom, a.right, a.bottom);

        // y ticks and labels
        ctx.lineWidth = 2.5;
        ctx.font = '23px ' + FONT;
        ctx.textAlign = 'right';
        ctx.textBaseline = 'middle';
        p.yTicks.forEach(function(v) {
            var py = ys.getPixelForValue(p.tf(v));
            seg(ctx, a.left - 17, py, a.left, py);
            ctx.fillText(String(v), a.left - 27, py + 1);
        });
        p.yMinor.forEach(function(v) {
            var py = ys.getPixelForValue(p.tf(v));
            seg(ctx, a.left - 10, py, a.left, py);
        });

        // x ticks and labels
        ctx.textAlign = 'center';
        for (var d = p.xMin; d <= p.xMax; d++) {
            var px = xs.getPixelForValue(d);
            var major = p.labelDays.indexOf(d) >= 0;
            seg(ctx, px, a.bottom, px, a.bottom + (major ? 18 : 11));
            if (major) ctx.fillText(d + '/' + p.month, px, a.bottom + 42);
        }
        ctx.fillText(p.year, (a.left + a.right) / 2, a.bottom + 73);

        // y title
        drawYTitle(ctx, p.ytitleX, p.ytitleY - p.top);

        // panel title
        ctx.font = '26px ' + FONT;
        ctx.fillText(p.title, p.titleX, p.titleY - p.top);

        if (p.brk) {
            // period annotations
            ctx.font = '25px ' + FONT;
            var ann = [
                ['P1', 1.18, 7.03, 43, 3.82, 25],
                ['P2', 11.47, 20.63, 44, 15.95, 25],
                ['P3', 26.56, 29.62, 44, 28.04, 28],
                ['C1', 7.24, 11.22, 162, 9.0, 145],
                ['C2', 20.74, 26.63, 167, 23.56, 150],
                ['C3', 29.69, 31.2, 167, 30.54, 150]
            ];
            ann.forEach(function(n) {
                dblArrow(ctx, xs.getPixelForValue(n[1]), xs.getPixelForValue(n[2]), n[3]);
                ctx.fillText(n[0], xs.getPixelForValue(n[4]), n[5]);
            });
        }

        if (p.legend) {
            var ly = 400 - p.top;
            ctx.lineWidth = 2;
            ctx.strokeRect(662, ly, 270, 44);
            var items = [['OA', '', 'OA'], ['SO', '4', 'SO4'], ['NO', '3', 'NO3'], ['NH', '4', 'NH4'], ['Chl', '', 'Chl'], ['BC', '', 'BC']];
            var x = 669;
            ctx.textAlign = 'left';
            ctx.textBaseline = 'alphabetic';
            items.forEach(function(it) {
                ctx.fillStyle = colors[it[2]];
                ctx.font = '23px ' + FONT;
                ctx.fillText(it[0], x, ly + 28);
                x += ctx.measureText(it[0]).width;
                if (it[1]) {
                    ctx.font = '16px ' + FONT;
                    ctx.fillText(it[1], x, ly + 33);
                    x += ctx.measureText(it[1]).width;
                }
                x += 7;
            });
        }
        ctx.restore();
    }
};

function makeChart(id) {
    var p = panels[id];
    var datasets = p.order.map(function(key, i) {
        return {
            label: key,
            data: p.series[key].map(function(pt) { return { x: pt[0], y: p.tf(pt[1]) }; }),
            borderColor: colors[key],
            borderWidth: 3,
            pointRadius: 0,
            tension: 0,
            fill: false,
            order: i,
            borderJoinStyle: 'round'
        };
    });
    new Chart(document.getElementById(id), {
        type: 'line',
        data: { datasets: datasets },
        plugins: [framePlugin],
        options: {
            responsive: false,
            animation: false,
            events: [],
            parsing: false,
            layout: { padding: { left: 0, right: 975 - p.right, top: p.areaTop - p.top, bottom: 0 } },
            plugins: { legend: { display: false }, tooltip: { enabled: false } },
            scales: {
                x: {
                    type: 'linear', min: p.xMin, max: p.xMax,
                    grid: { display: false }, border: { display: false },
                    ticks: { display: false },
                    afterFit: function(s) { s.height = p.h - (p.areaBottom - p.top); }
                },
                y: {
                    type: 'linear', min: p.yMin, max: p.yMax,
                    grid: { display: false }, border: { display: false },
                    ticks: { display: false },
                    afterFit: function(s) { s.width = p.left; }
                }
            }
        }
    });
}

['cA', 'cB', 'cC', 'cD'].forEach(makeChart);
</script>
</body>
</html>
